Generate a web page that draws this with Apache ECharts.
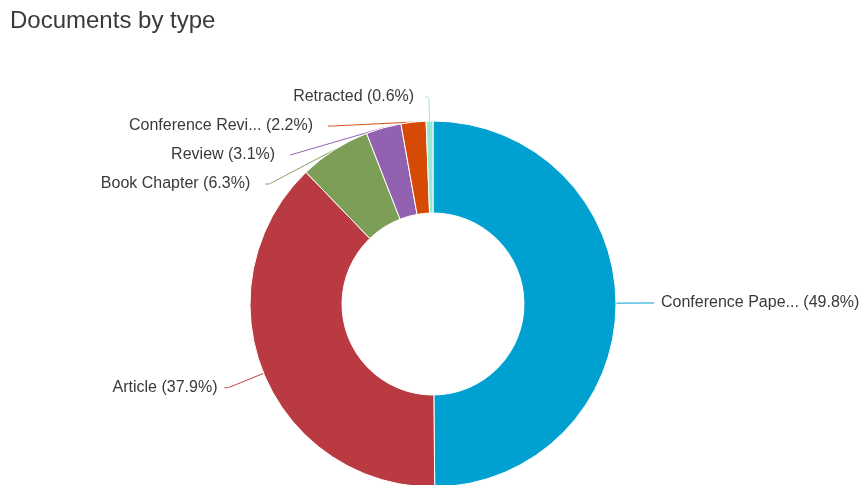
<!DOCTYPE html>
<html>
<head>
<meta charset="utf-8">
<script src="https://cdn.jsdelivr.net/npm/echarts@6/dist/echarts.min.js"></script>
<style>
  html, body { margin: 0; padding: 0; background: #fff; }
  #chart { width: 864px; height: 485px; }
</style>
</head>
<body>
<div id="chart"></div>
<script>
// Document types and their share of the total (percent)
const docTypes = ['Conference Paper', 'Article', 'Book Chapter', 'Review', 'Conference Review', 'Retracted'];
const docShares = [49.8, 37.9, 6.3, 3.1, 2.2, 0.6];
const typeColors = ['#00a0d0', '#b93a40', '#7d9e56', '#9262b0', '#d54b06', '#98e8d4'];
// connector line segments: radial part and horizontal part
const lineLengths = [38, 38, 24, 24, 24, 24];
const lineLengths2 = [0, 4, 4, 4, 4, 4];
// gap between a connector's end and its label text
const labelGaps = [2, 2, 10, 10, 10, 6];

const shortName = n => (n.length > 15 ? n.slice(0, 15) + '...' : n);

const chart = echarts.init(document.getElementById('chart'));
chart.setOption({
  animation: false,
  title: {
    text: 'Documents by type',
    left: 5,
    top: 4,
    textStyle: { fontFamily: 'Arial, Liberation Sans, sans-serif', fontSize: 24, fontWeight: 'normal', color: '#3a3a3a' }
  },
  series: [{
    type: 'pie',
    center: [433, 304],
    radius: [91, 183],
    startAngle: 90,
    clockwise: true,
    avoidLabelOverlap: true,
    itemStyle: { borderColor: '#fff', borderWidth: 1 },
    label: {
      show: true,
      fontFamily: 'Arial, Liberation Sans, sans-serif',
      fontSize: 16,
      lineHeight: 27,
      color: '#3a3a3a',
      overflow: 'none',
      formatter: p => shortName(p.name) + ' (' + p.value + '%)'
    },
    labelLine: { show: true, smooth: 0.2, lineStyle: { width: 1 } },
    data: docTypes.map((n, i) => ({
      name: n,
      value: docShares[i],
      itemStyle: { color: typeColors[i] },
      label: { padding: [0, labelGaps[i], 0, labelGaps[i]] },
      labelLine: { length: lineLengths[i], length2: lineLengths2[i] }
    }))
  }]
});
</script>
</body>
</html>
